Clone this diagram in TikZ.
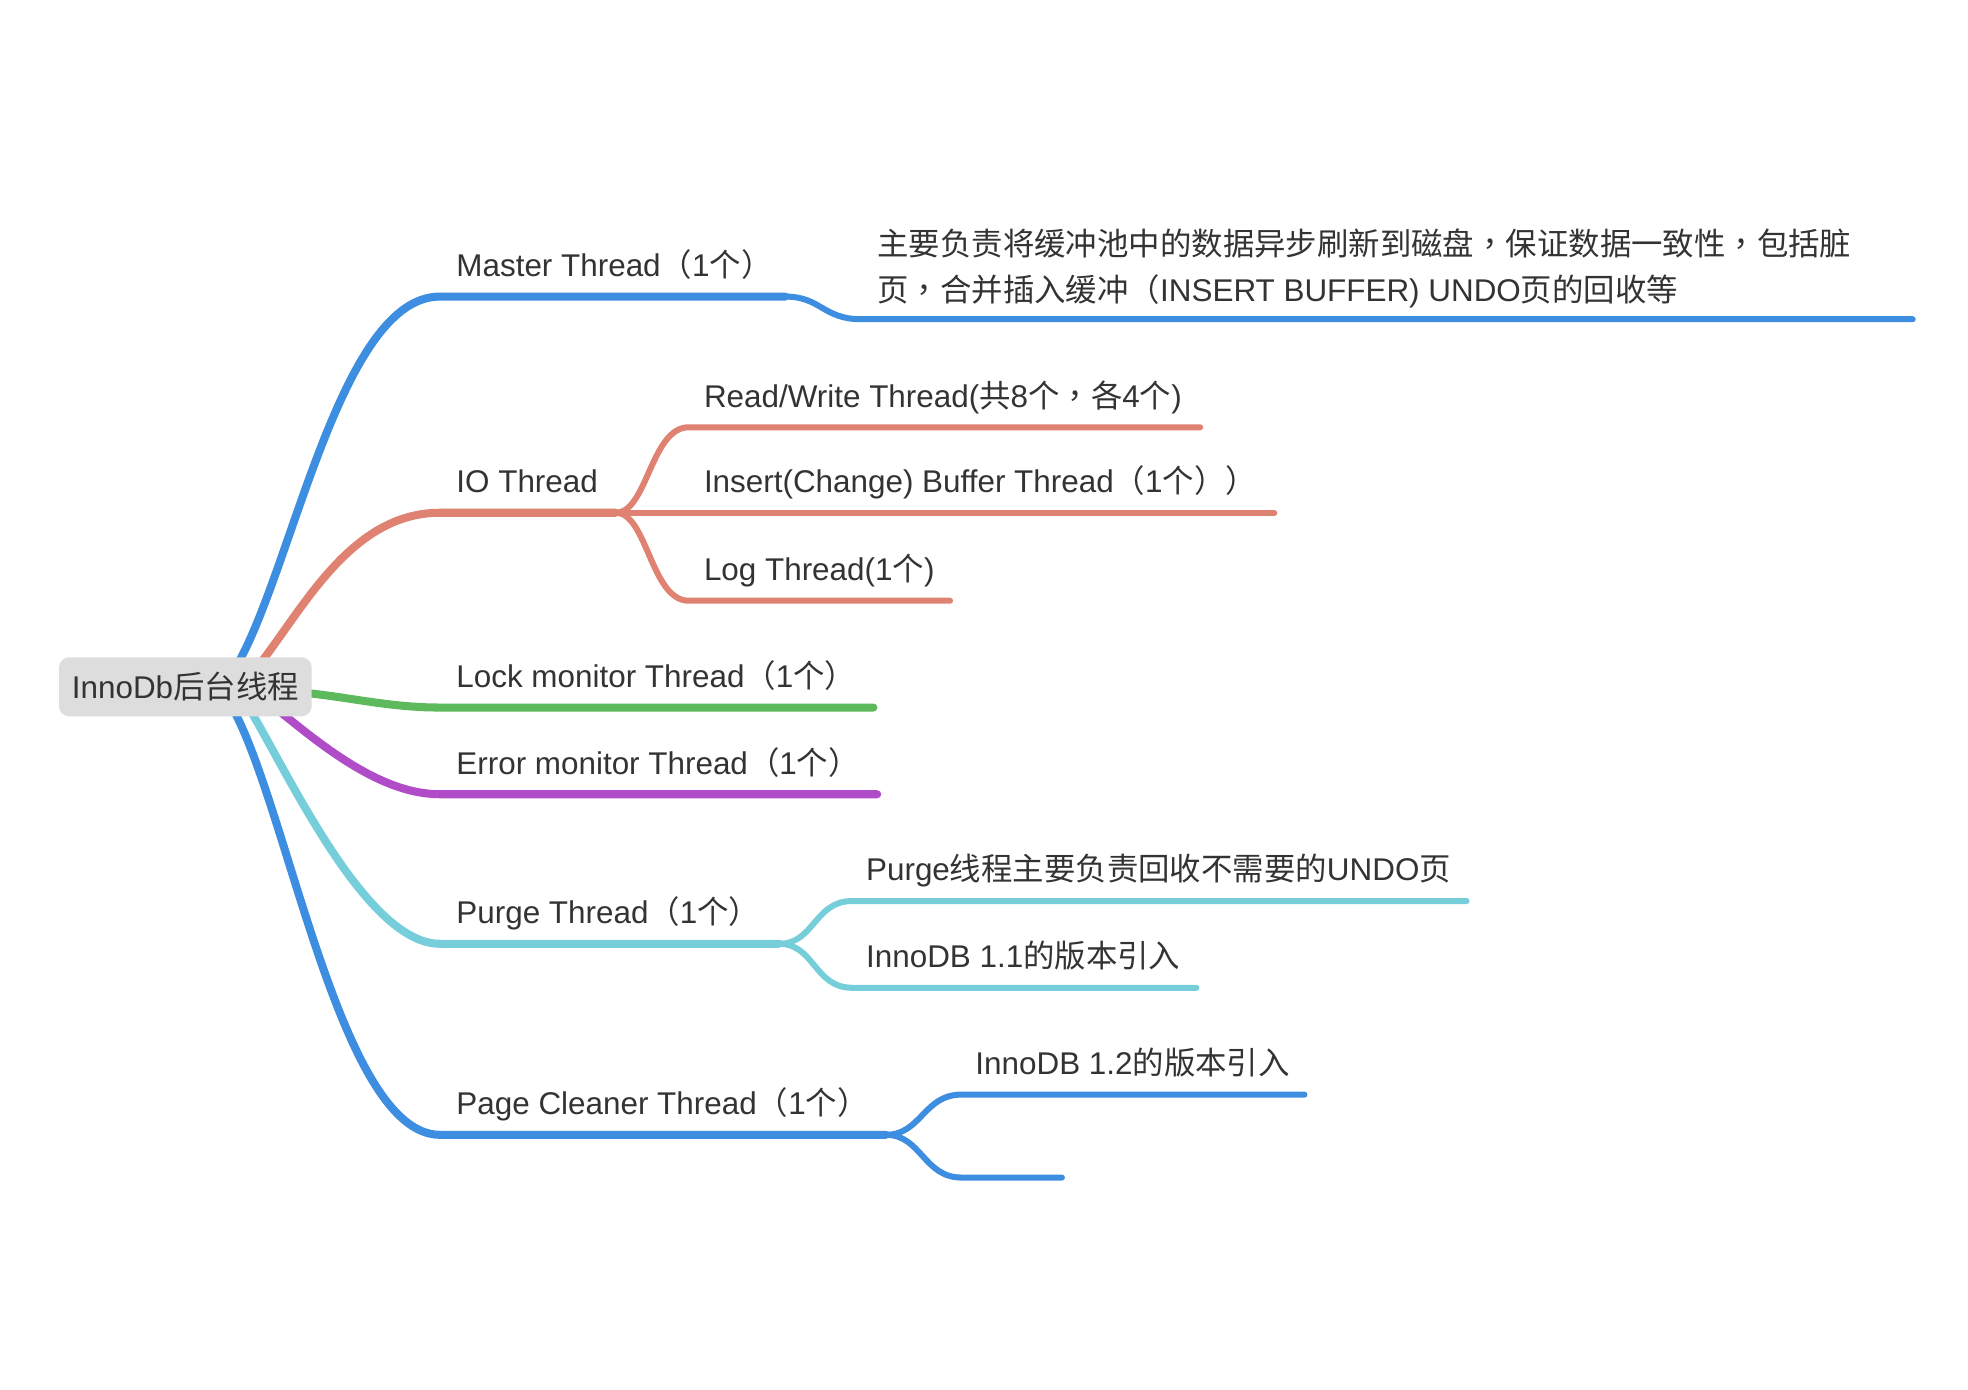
\documentclass[tikz,border=0pt]{standalone}
\usepackage{fontspec}
\setmainfont{Liberation Sans}
\newfontfamily\cjk{Noto Sans CJK SC}
\newfontfamily\cjktc{Noto Sans CJK TC}
\newcommand{\zh}[1]{{\cjk #1}}
\newcommand{\zc}{{\cjktc ，}}
\usetikzlibrary{positioning,calc,backgrounds}
\definecolor{mblue}{HTML}{3D8EE0}
\definecolor{salmon}{HTML}{E08271}
\definecolor{mgreen}{HTML}{5CB95C}
\definecolor{mpurple}{HTML}{B04CC8}
\definecolor{mcyan}{HTML}{76CEDA}
\definecolor{rootfill}{HTML}{DDDDDD}
\definecolor{txt}{HTML}{333333}

\begin{document}
\begin{tikzpicture}[x=1pt, y=-1pt,
    every node/.style={text=txt, font=\fontsize{25}{37}\selectfont},
    rootbox/.style={fill=rootfill, rounded corners=8pt, minimum width=201pt, minimum height=47pt, inner sep=0pt},
    lbl/.style={anchor=base west, inner sep=0pt},
    trunk/.style={line width=6.4pt, line cap=round},
    twig/.style={line width=4.8pt, line cap=round}]
    \useasboundingbox (0,0) rectangle (1566,1106);

    % root topic
    \node[rootbox] (root) at (147.5,546.5) {InnoDb\zh{后台线程}};

    % branch points
    \coordinate (mt0) at (187,532);  \coordinate (mt) at (350,236);
    \coordinate (mt1) at (625,236);  \coordinate (mt2) at (685,254);
    \coordinate (mtE) at (1522,254);
    \coordinate (io0) at (207,528);  \coordinate (io) at (350,408);
    \coordinate (io1) at (490,408);
    \coordinate (rw) at (548,340);   \coordinate (rwE) at (955,340);
    \coordinate (ibE) at (1014,408);
    \coordinate (lg) at (548,478);   \coordinate (lgE) at (756,478);
    \coordinate (lk0) at (240,551);  \coordinate (lk) at (350,563);
    \coordinate (lkE) at (695,563);
    \coordinate (er0) at (215,560);  \coordinate (er) at (350,632);
    \coordinate (erE) at (698,632);
    \coordinate (pg0) at (196,560);  \coordinate (pg) at (350,751);
    \coordinate (pg1) at (620,751);
    \coordinate (pd) at (678,717);   \coordinate (pdE) at (1167,717);
    \coordinate (v11) at (678,786);  \coordinate (v11E) at (952,786);
    \coordinate (pc0) at (183,560);  \coordinate (pc) at (350,903);
    \coordinate (pc1) at (705,903);
    \coordinate (v12) at (765,871);  \coordinate (v12E) at (1038,871);
    \coordinate (pe) at (765,937);   \coordinate (peE) at (845,937);

    % branches
    \begin{scope}[on background layer]
    \draw[trunk, mblue] (mt0) .. controls +(45,-75) and +(-80,0) .. (mt) -- (mt1);
    \draw[twig, mblue] (mt1) .. controls +(28,0) and +(-30,0) .. (mt2) -- (mtE);

    \draw[trunk, salmon] (io0) .. controls +(35,-45) and +(-70,0) .. (io) -- (io1);
    \draw[twig, salmon] (io1) .. controls +(25,0) and +(-30,0) .. (rw) -- (rwE);
    \draw[twig, salmon] (io1) -- (ibE);
    \draw[twig, salmon] (io1) .. controls +(25,0) and +(-30,0) .. (lg) -- (lgE);

    \draw[trunk, mgreen] (lk0) .. controls +(40,4) and +(-40,0) .. (lk) -- (lkE);
    \draw[trunk, mpurple] (er0) .. controls +(35,28) and +(-50,0) .. (er) -- (erE);

    \draw[trunk, mcyan] (pg0) .. controls +(30,48) and +(-60,0) .. (pg) -- (pg1);
    \draw[twig, mcyan] (pg1) .. controls +(28,0) and +(-30,0) .. (pd) -- (pdE);
    \draw[twig, mcyan] (pg1) .. controls +(28,0) and +(-30,0) .. (v11) -- (v11E);

    \draw[trunk, mblue] (pc0) .. controls +(45,75) and +(-80,0) .. (pc) -- (pc1);
    \draw[twig, mblue] (pc1) .. controls +(28,0) and +(-30,0) .. (v12) -- (v12E);
    \draw[twig, mblue] (pc1) .. controls +(28,0) and +(-30,0) .. (pe) -- (peE);
    \end{scope}

    % labels
    \node[lbl] (mtl) at ([shift={(13,-16)}]mt) {Master Thread\zh{（}1\zh{个）}};
    \node[lbl, align=left] (mtd) at ([shift={(13,-14)}]mt2)
        {\zh{主要负责将缓冲池中的数据异步刷新到磁盘}\zc\zh{保证数据一致性}\zc\zh{包括脏}\\
         \zh{页}\zc\zh{合并插入缓冲（}INSERT BUFFER) UNDO\zh{页的回收等}};
    \node[lbl] (iol) at ([shift={(13,-16)}]io) {IO Thread};
    \node[lbl] (rwl) at ([shift={(12,-16)}]rw) {Read/Write Thread(\zh{共}8\zh{个}\zc\zh{各}4\zh{个})};
    \node[lbl] (ibl) at ([shift={(70,-16)}]io1) {Insert(Change) Buffer Thread\zh{（}1\zh{个））}};
    \node[lbl] (lgl) at ([shift={(12,-16)}]lg) {Log Thread(1\zh{个})};
    \node[lbl] (lkl) at ([shift={(13,-16)}]lk) {Lock monitor Thread\zh{（}1\zh{个）}};
    \node[lbl] (erl) at ([shift={(13,-16)}]er) {Error monitor Thread\zh{（}1\zh{个）}};
    \node[lbl] (pgl) at ([shift={(13,-16)}]pg) {Purge Thread\zh{（}1\zh{个）}};
    \node[lbl] (pdl) at ([shift={(11,-16)}]pd) {Purge\zh{线程主要负责回收不需要的}UNDO\zh{页}};
    \node[lbl] (v11l) at ([shift={(11,-16)}]v11) {InnoDB 1.1\zh{的版本引入}};
    \node[lbl] (pcl) at ([shift={(13,-16)}]pc) {Page Cleaner Thread\zh{（}1\zh{个）}};
    \node[lbl] (v12l) at ([shift={(11,-16)}]v12) {InnoDB 1.2\zh{的版本引入}};
\end{tikzpicture}
\end{document}
